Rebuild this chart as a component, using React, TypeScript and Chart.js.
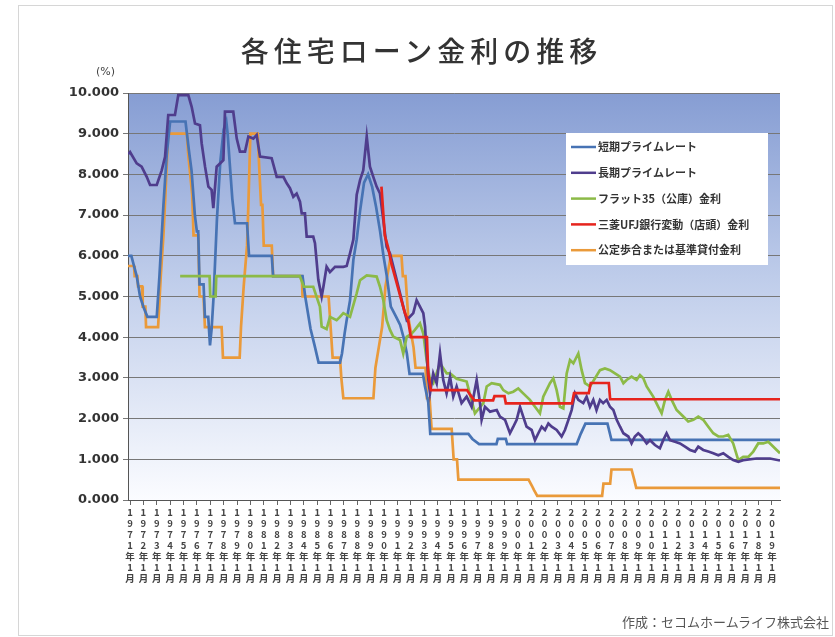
import React, { useEffect, useRef } from "react";
import { Chart, registerables } from "chart.js";

Chart.register(...registerables);

const TITLE = "各住宅ローン金利の推移";
const UNIT = "(%)";
const SOURCE = "作成：セコムホームライフ株式会社";

const SERIES_NAMES = [
  "短期プライムレート",
  "長期プライムレート",
  "フラット35（公庫）金利",
  "三菱UFJ銀行変動（店頭）金利",
  "公定歩合または基準貸付金利",
];
const SERIES_COLORS = ["#4773b4", "#4f3d8d", "#8cba47", "#e6241d", "#ea9a3a"];

const YEAR_TICKS = [
  1971, 1972, 1973, 1974, 1975, 1976, 1977, 1978, 1979, 1980,
  1981, 1982, 1983, 1984, 1985, 1986, 1987, 1988, 1989, 1990,
  1991, 1992, 1993, 1994, 1995, 1996, 1997, 1998, 1999, 2000,
  2001, 2002, 2003, 2004, 2005, 2006, 2007, 2008, 2009, 2010,
  2011, 2012, 2013, 2014, 2015, 2016, 2017, 2018, 2019,
];
const X_MIN = 1970.85;
const X_MAX = 2019.6;

// 短期プライムレート
const SHORT_T = [
  1970.85, 1971.1, 1971.3, 1971.5, 1971.75, 1972.0, 1972.3, 1973.0, 1973.2, 1973.5,
  1973.75, 1974.0, 1975.15, 1975.4, 1975.6, 1975.85, 1976.0, 1976.1, 1976.2, 1976.5,
  1976.6, 1976.85, 1976.98, 1977.1, 1977.25, 1977.5, 1977.75, 1978.0, 1978.2, 1978.3,
  1978.45, 1978.65, 1978.85, 1979.75, 1979.9, 1981.6, 1981.7, 1983.9, 1984.1, 1984.3,
  1984.5, 1984.8, 1985.1, 1986.7, 1986.85, 1987.05, 1987.2, 1987.45, 1987.7, 1987.95,
  1988.2, 1988.5, 1988.8, 1989.1, 1989.4, 1989.7, 1989.95, 1990.2, 1990.5, 1990.9,
  1991.2, 1991.45, 1991.7, 1991.9, 1992.9, 1993.05, 1993.3, 1993.45, 1996.3, 1996.6,
  1997.1, 1998.4, 1998.5, 1999.1, 1999.2, 2004.4, 2004.7, 2005.05, 2006.7, 2007.0,
  2019.6,
];
const SHORT_V = [
  6.0, 6.0, 5.75, 5.5, 5.0, 4.75, 4.5, 4.5, 5.5, 7.25,
  8.5, 9.3, 9.3, 8.6, 8.1, 7.0, 6.6, 6.6, 5.3, 5.3,
  4.5, 4.5, 3.8, 4.2, 5.0, 6.9, 8.3, 9.1, 9.3, 9.0,
  8.3, 7.4, 6.8, 6.8, 6.0, 6.0, 5.5, 5.5, 5.0, 4.6,
  4.2, 3.8, 3.375, 3.375, 3.6, 4.1, 4.42, 4.9, 5.9, 6.4,
  7.1, 7.8, 8.0, 7.7, 7.2, 6.6, 6.0, 5.5, 4.75, 4.5,
  4.3, 4.0, 3.6, 3.1, 3.1, 2.8, 2.4, 1.625, 1.625, 1.5,
  1.375, 1.375, 1.5, 1.5, 1.375, 1.375, 1.625, 1.875, 1.875, 1.475,
  1.475,
];

// 長期プライムレート
const LONG_T = [
  1970.85, 1971.0, 1971.5, 1971.87, 1972.25, 1972.5, 1973.0, 1973.37, 1973.62, 1973.86,
  1974.36, 1974.61, 1975.36, 1975.61, 1975.86, 1976.23, 1976.36, 1976.61, 1976.86, 1977.1,
  1977.23, 1977.48, 1977.73, 1977.98, 1978.1, 1978.72, 1978.98, 1979.22, 1979.6, 1979.85,
  1980.22, 1980.47, 1980.72, 1981.59, 1981.97, 1982.47, 1982.72, 1982.96, 1983.21, 1983.46,
  1983.71, 1983.84, 1984.08, 1984.21, 1984.7, 1984.83, 1985.08, 1985.33, 1985.46, 1985.7,
  1985.95, 1986.33, 1986.95, 1987.2, 1987.45, 1987.7, 1987.95, 1988.2, 1988.44, 1988.7,
  1988.94, 1989.19, 1989.44, 1989.69, 1989.94, 1990.19, 1990.44, 1990.94, 1991.19, 1991.43,
  1991.69, 1992.18, 1992.43, 1992.68, 1992.93, 1993.06, 1993.18, 1993.31, 1993.43, 1993.67,
  1993.93, 1994.18, 1994.42, 1994.67, 1994.93, 1995.17, 1995.42, 1995.79, 1996.17, 1996.54,
  1996.92, 1997.17, 1997.29, 1997.54, 1997.92, 1998.42, 1998.66, 1999.04, 1999.41, 1999.66,
  1999.91, 2000.16, 2000.4, 2000.65, 2001.03, 2001.28, 2001.53, 2001.78, 2002.03, 2002.28,
  2002.53, 2002.9, 2003.27, 2003.52, 2003.78, 2004.02, 2004.27, 2004.52, 2004.89, 2005.14,
  2005.39, 2005.64, 2005.88, 2006.14, 2006.38, 2006.64, 2006.89, 2007.14, 2007.39, 2007.64,
  2007.89, 2008.26, 2008.5, 2008.75, 2009.0, 2009.26, 2009.63, 2009.88, 2010.25, 2010.62,
  2010.87, 2011.12, 2011.37, 2011.75, 2012.12, 2012.5, 2012.87, 2013.24, 2013.49, 2013.86,
  2014.24, 2014.61, 2014.99, 2015.36, 2015.73, 2016.1, 2016.48, 2016.85, 2017.85, 2018.85,
  2019.6,
];
const LONG_V = [
  8.5, 8.55, 8.27, 8.19, 7.94, 7.74, 7.74, 8.1, 8.43, 9.46,
  9.46, 9.95, 9.95, 9.66, 9.25, 9.21, 8.76, 8.19, 7.7, 7.62,
  7.17, 8.19, 8.27, 8.35, 9.54, 9.54, 8.88, 8.56, 8.56, 8.93,
  8.88, 8.97, 8.44, 8.4, 7.94, 7.94, 7.78, 7.66, 7.45, 7.53,
  7.33, 7.04, 7.04, 6.47, 6.47, 6.31, 5.41, 5.0, 5.24, 5.73,
  5.6, 5.73, 5.73, 5.75, 6.06, 6.4, 7.5, 7.86, 8.1, 8.93,
  8.19, 7.94, 7.7, 7.53, 6.88, 6.22, 6.06, 5.41, 5.08, 4.75,
  4.42, 4.59, 4.91, 4.75, 4.59, 4.26, 3.6, 2.95, 2.62, 3.11,
  2.87, 3.6, 2.95, 2.62, 3.03, 2.54, 2.79, 2.38, 2.54, 2.29,
  2.95, 2.38, 1.97, 2.29, 2.17, 2.21, 2.05, 1.97, 1.64, 1.8,
  1.97, 2.29, 2.05, 1.8, 1.72, 1.47, 1.64, 1.8, 1.72, 1.88,
  1.8, 1.72, 1.56, 1.72, 1.97, 2.21, 2.62, 2.46, 2.38, 2.54,
  2.29, 2.46, 2.21, 2.46, 2.38, 2.46, 2.29, 2.21, 1.97, 1.8,
  1.64, 1.56, 1.39, 1.56, 1.64, 1.56, 1.39, 1.47, 1.35, 1.27,
  1.47, 1.64, 1.47, 1.43, 1.39, 1.31, 1.23, 1.19, 1.31, 1.23,
  1.19, 1.15, 1.1, 1.15, 1.06, 0.98, 0.94, 0.98, 1.02, 1.02,
  0.97,
];

// フラット35（公庫）金利
const FLAT_T = [
  1974.75, 1976.95, 1977.0, 1977.4, 1977.45, 1983.7, 1984.0, 1984.7, 1985.2, 1985.33,
  1985.7, 1985.95, 1986.45, 1986.7, 1986.95, 1987.45, 1987.95, 1988.2, 1988.7, 1989.44,
  1989.69, 1989.94, 1990.19, 1990.44, 1990.69, 1991.19, 1991.43, 1991.69, 1992.06, 1992.3,
  1992.68, 1992.93, 1993.18, 1993.43, 1993.67, 1994.18, 1994.68, 1994.93, 1995.42, 1996.17,
  1996.79, 1997.42, 1997.67, 1998.04, 1998.66, 1998.91, 1999.29, 1999.66, 2000.03, 2000.4,
  2000.9, 2001.28, 2001.65, 2001.9, 2002.4, 2002.65, 2002.9, 2003.15, 2003.4, 2003.65,
  2003.9, 2004.15, 2004.52, 2004.77, 2005.02, 2005.39, 2005.77, 2006.14, 2006.51, 2006.89,
  2007.26, 2007.64, 2007.89, 2008.13, 2008.5, 2008.88, 2009.13, 2009.38, 2009.63, 2010.12,
  2010.5, 2010.75, 2011.0, 2011.25, 2011.5, 2011.87, 2012.37, 2012.74, 2013.12, 2013.49,
  2013.86, 2014.24, 2014.61, 2014.99, 2015.36, 2015.73, 2016.1, 2016.48, 2016.85, 2017.23,
  2017.6, 2017.97, 2018.35, 2018.72, 2018.97, 2019.35, 2019.6,
];
const FLAT_V = [
  5.5, 5.5, 5.0, 5.0, 5.5, 5.5, 5.24, 5.24, 4.75, 4.26,
  4.2, 4.5, 4.42, 4.5, 4.59, 4.5, 5.08, 5.4, 5.52, 5.49,
  5.24, 4.91, 4.42, 4.18, 4.01, 3.93, 3.6, 4.01, 4.09, 4.18,
  4.34, 4.09, 3.44, 2.95, 2.87, 3.36, 3.11, 3.11, 2.98, 2.91,
  2.13, 2.38, 2.79, 2.87, 2.83, 2.7, 2.62, 2.66, 2.74, 2.62,
  2.46, 2.29, 2.13, 2.54, 2.87, 2.99, 2.7, 2.29, 2.25, 3.11,
  3.44, 3.36, 3.6, 3.19, 2.87, 2.79, 2.99, 3.19, 3.23, 3.19,
  3.11, 3.03, 2.87, 2.95, 3.03, 2.95, 3.07, 2.99, 2.79, 2.54,
  2.29, 2.13, 2.46, 2.66, 2.46, 2.21, 2.05, 1.93, 1.97, 2.05,
  1.97, 1.8, 1.64, 1.56, 1.56, 1.6, 1.39, 0.98, 1.06, 1.06,
  1.19, 1.39, 1.39, 1.43, 1.35, 1.23, 1.15,
];

// 三菱UFJ銀行変動（店頭）金利
const UFJ_T = [
  1989.8, 1990.05, 1990.3, 1990.55, 1990.8, 1991.05, 1991.3, 1991.55, 1991.8, 1992.0,
  1993.2, 1993.3, 1993.5, 1996.2, 1996.4, 1996.75, 1998.15, 1998.25, 1999.0, 1999.1,
  2004.05, 2004.2, 2005.3, 2005.45, 2006.8, 2006.9, 2019.6,
];
const UFJ_V = [
  7.7, 6.5, 6.2, 5.8, 5.5, 5.2, 4.9, 4.6, 4.4, 4.0,
  4.0, 3.1, 2.7, 2.7, 2.6, 2.45, 2.45, 2.55, 2.55, 2.375,
  2.375, 2.625, 2.625, 2.875, 2.875, 2.475, 2.475,
];

// 公定歩合または基準貸付金利
const BOJ_T = [
  1970.85, 1971.3, 1971.35, 1971.55, 1971.6, 1971.9, 1971.95, 1972.15, 1972.2, 1973.1,
  1973.3, 1973.5, 1973.65, 1973.85, 1975.25, 1975.35, 1975.5, 1975.65, 1975.75, 1976.1,
  1976.2, 1976.5, 1976.6, 1977.85, 1977.95, 1979.2, 1979.3, 1979.5, 1979.75, 1979.85,
  1980.0, 1980.55, 1980.65, 1980.8, 1980.9, 1981.0, 1981.6, 1981.7, 1983.85, 1983.9,
  1985.85, 1985.95, 1986.05, 1986.15, 1986.7, 1986.8, 1986.95, 1989.2, 1989.35, 1989.6,
  1989.85, 1990.1, 1990.5, 1991.3, 1991.4, 1991.6, 1991.7, 1991.8, 1992.2, 1992.35,
  1993.1, 1993.2, 1993.4, 1993.55, 1995.05, 1995.2, 1995.45, 1995.55, 2000.8, 2001.05,
  2001.2, 2001.45, 2006.3, 2006.4, 2006.9, 2007.0, 2008.5, 2008.7, 2008.85, 2019.6,
];
const BOJ_V = [
  5.75, 5.75, 5.5, 5.5, 5.25, 5.25, 4.75, 4.75, 4.25, 4.25,
  5.5, 6.5, 7.5, 9.0, 9.0, 8.5, 8.0, 7.5, 6.5, 6.5,
  5.0, 5.0, 4.25, 4.25, 3.5, 3.5, 4.25, 5.25, 6.25, 7.25,
  9.0, 9.0, 8.25, 7.25, 7.25, 6.25, 6.25, 5.5, 5.5, 5.0,
  5.0, 4.5, 4.0, 3.5, 3.5, 3.0, 2.5, 2.5, 3.25, 3.75,
  4.25, 5.25, 6.0, 6.0, 5.5, 5.5, 5.0, 4.5, 3.75, 3.25,
  3.25, 2.5, 2.5, 1.75, 1.75, 1.0, 1.0, 0.5, 0.5, 0.35,
  0.25, 0.1, 0.1, 0.4, 0.4, 0.75, 0.75, 0.5, 0.3, 0.3,
];

const SERIES_T = [SHORT_T, LONG_T, FLAT_T, UFJ_T, BOJ_T];
const SERIES_V = [SHORT_V, LONG_V, FLAT_V, UFJ_V, BOJ_V];
const DRAW_ORDER = [3, 1, 2, 0, 4];

const toPoints = (ts: number[], vs: number[]) => ts.map((t, i) => ({ x: t, y: vs[i] }));

export default function App() {
  const ref = useRef<HTMLCanvasElement | null>(null);

  useEffect(() => {
    if (!ref.current) return;

    const plotBg = {
      id: "plotBg",
      beforeDraw(chart: any) {
        const { ctx, chartArea: a } = chart;
        if (!a) return;
        const g = ctx.createLinearGradient(0, a.top, 0, a.bottom);
        g.addColorStop(0, "rgb(134,157,211)");
        g.addColorStop(0.45, "rgb(190,204,234)");
        g.addColorStop(1, "rgb(251,252,255)");
        ctx.save();
        ctx.fillStyle = g;
        ctx.fillRect(a.left, a.top, a.right - a.left, a.bottom - a.top);
        ctx.restore();
      },
    };

    const boxLegend = {
      id: "boxLegend",
      afterDatasetsDraw(chart: any) {
        const { ctx, chartArea: a } = chart;
        const left = a.right - 214;
        const top = a.top + 40;
        const w = 202;
        const h = 132;
        ctx.save();
        ctx.fillStyle = "#ffffff";
        ctx.fillRect(left, top, w, h);
        ctx.textBaseline = "middle";
        ctx.textAlign = "left";
        ctx.font = "bold 11px 'Noto Sans CJK JP'";
        SERIES_NAMES.forEach((name, i) => {
          const y = top + 14 + i * 25.8;
          ctx.strokeStyle = SERIES_COLORS[i];
          ctx.lineWidth = 2.5;
          ctx.beginPath();
          ctx.moveTo(left + 5, y);
          ctx.lineTo(left + 30, y);
          ctx.stroke();
          ctx.fillStyle = "#333333";
          ctx.fillText(name, left + 32, y);
        });
        ctx.restore();
      },
    };

    const datasets = SERIES_NAMES.map((name, i) => ({
      label: name,
      data: toPoints(SERIES_T[i], SERIES_V[i]),
      borderColor: SERIES_COLORS[i],
      backgroundColor: SERIES_COLORS[i],
      borderWidth: 2.7,
      pointRadius: 0,
      tension: 0,
      fill: false,
      order: DRAW_ORDER[i],
    }));

    const chart = new Chart(ref.current, {
      type: "line",
      data: { datasets },
      plugins: [plotBg, boxLegend],
      options: {
        animation: false,
        responsive: false,
        devicePixelRatio: 1,
        layout: { padding: { left: 0, top: 93, right: 55, bottom: 0 } },
        plugins: {
          legend: { display: false },
          title: { display: false },
          tooltip: { enabled: false },
        },
        scales: {
          x: {
            type: "linear",
            min: X_MIN,
            max: X_MAX,
            afterBuildTicks: (scale: any) => {
              scale.ticks = YEAR_TICKS.map((v) => ({ value: v }));
            },
            afterFit: (scale: any) => {
              scale.height = 137;
            },
            ticks: {
              autoSkip: false,
              maxRotation: 0,
              minRotation: 0,
              padding: 2,
              color: "#444444",
              font: { family: "'Noto Sans CJK JP'", size: 9.5, weight: "bold", lineHeight: 1.15 },
              callback: (v: any) => [...String(v).split(""), "年", "1", "月"],
            },
            grid: { drawOnChartArea: false, drawTicks: true, tickLength: 5, color: "#666666" },
            border: { display: true, color: "#555555", width: 1 },
          },
          y: {
            min: 0,
            max: 10,
            afterFit: (scale: any) => {
              scale.width = 128;
            },
            ticks: {
              stepSize: 1,
              padding: 4,
              color: "#333333",
              font: { family: "'DejaVu Sans'", size: 13, weight: "bold" },
              callback: (v: any) => Number(v).toFixed(3),
            },
            grid: { color: "#777777", lineWidth: 1, tickLength: 5, drawTicks: true },
            border: { display: true, color: "#555555", width: 1 },
          },
        },
      } as any,
    });

    return () => chart.destroy();
  }, []);

  return (
    <div
      style={{
        position: "absolute",
        left: 0,
        top: 0,
        width: 835,
        height: 637,
        background: "#ffffff",
        overflow: "hidden",
      }}
    >
      <div
        style={{
          position: "absolute",
          left: 18,
          top: 5,
          width: 815,
          height: 631,
          border: "1px solid #d6d6d6",
          boxSizing: "border-box",
        }}
      />
      <canvas
        ref={ref}
        width={835}
        height={637}
        style={{ position: "absolute", left: 0, top: 0, width: 835, height: 637 }}
      />
      <div
        style={{
          position: "absolute",
          left: 0,
          top: 34,
          width: 835,
          paddingLeft: 8,
          boxSizing: "border-box",
          textAlign: "center",
          fontFamily: "'Noto Sans CJK JP'",
          fontSize: 28,
          fontWeight: 500,
          letterSpacing: 5,
          lineHeight: "32px",
          color: "#333333",
        }}
      >
        {TITLE}
      </div>
      <div
        style={{
          position: "absolute",
          left: 96,
          top: 65,
          fontFamily: "'DejaVu Sans'",
          fontSize: 11,
          lineHeight: "14px",
          color: "#444444",
        }}
      >
        {UNIT}
      </div>
      <div
        style={{
          position: "absolute",
          right: 6,
          top: 613,
          fontFamily: "'Noto Sans CJK JP'",
          fontSize: 13,
          lineHeight: "18px",
          color: "#555555",
        }}
      >
        {SOURCE}
      </div>
    </div>
  );
}
